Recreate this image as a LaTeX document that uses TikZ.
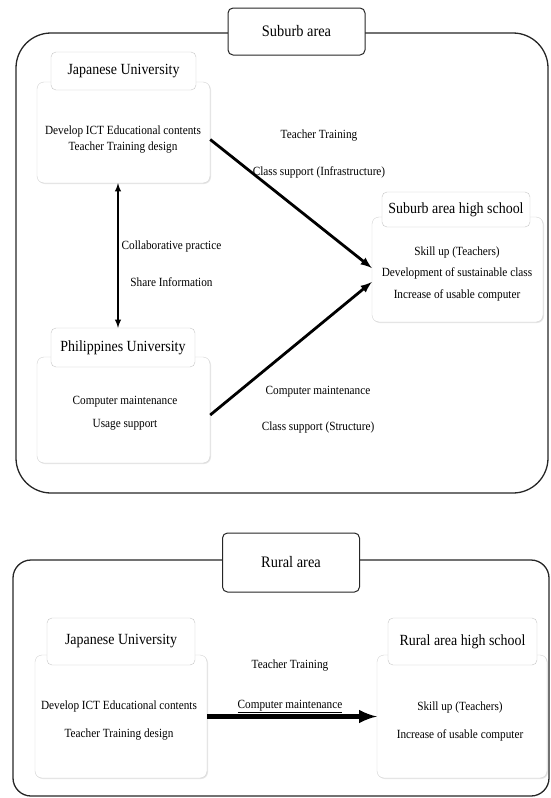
\documentclass[tikz,border=0pt]{standalone}
\usepackage{fontspec}
\setmainfont{Liberation Serif}[FakeStretch=0.9]
\usetikzlibrary{shadows}

\begin{document}
\begin{tikzpicture}[x=1pt,y=-1pt]
 \tikzstyle{zone}=[draw=black!85,line width=1.3pt]
 \tikzstyle{titre}=[draw=black!85,line width=1pt,fill=white,rounded corners=5pt,minimum width=137pt,font=\fontsize{16}{18}\selectfont]
 \tikzstyle{entete}=[draw=gray!45,fill=white,rounded corners=5pt,font=\fontsize{15.5}{18}\selectfont]
 \tikzstyle{corps}=[draw=gray!35,fill=white,rounded corners=7pt,drop shadow={shadow xshift=1pt,shadow yshift=-1pt,opacity=0.2}]
 \tikzstyle{texte}=[align=center,font=\fontsize{12.5}{16}\selectfont]
 \tikzstyle{flux}=[->,>=latex,line width=2.8pt]
 \useasboundingbox (0,0) rectangle (550,798);
 % suburb
 \draw[zone,rounded corners=35pt] (16,33) rectangle (548,493);
 \node[titre,minimum height=47pt] (T1) at (296.5,31.5) {Suburb area};
 \node[corps,minimum width=173pt,minimum height=101pt] (JUb) at (123.5,132.5) {};
 \node[entete,minimum width=145pt,minimum height=38pt] (JUh) at (123.5,71) {Japanese University};
 \node[texte] (JUt) at (123,140) {Develop ICT Educational contents\\Teacher Training design};
 \node[corps,minimum width=173pt,minimum height=106pt] (PUb) at (123.5,410) {};
 \node[entete,minimum width=144pt,minimum height=39pt] (PUh) at (123,347.5) {Philippines University};
 \node[texte] (PUt) at (125,413.5) {Computer maintenance\\[7pt]Usage support};
 \node[corps,minimum width=171pt,minimum height=105pt] (SHSb) at (457.5,269.5) {};
 \node[entete,minimum width=148pt,minimum height=35pt] (SHSh) at (456,209.5) {Suburb area high school};
 \node[texte] (SHSt) at (457,273.5) {Skill up (Teachers)\\[5.5pt]Development of sustainable class\\[5.5pt]Increase of usable computer};
 \node[texte] (L1) at (319,153.5) {Teacher Training\\[21pt]Class support (Infrastructure)};
 \node[texte] (L2) at (171.5,263.5) {Collaborative practice\\[21pt]Share Information};
 \node[texte] (L3) at (318,410) {Computer maintenance\\[20pt]Class support (Structure)};
 \draw[flux] ([yshift=-7pt]JUb.east)--([yshift=1.5pt]SHSb.west);
 \draw[flux] ([yshift=-5pt]PUb.east)--([yshift=-12.5pt]SHSb.west);
 \draw[<->,>=latex,line width=1.8pt] ([xshift=-5.5pt]JUb.south)--([xshift=-5pt]PUh.north);
 % rural
 \draw[zone,rounded corners=18pt] (13,560) rectangle (549,796);
 \node[titre,minimum height=59pt] (T2) at (291,562.5) {Rural area};
 \node[corps,minimum width=172pt,minimum height=123pt] (RJUb) at (121,716.5) {};
 \node[entete,minimum width=148pt,minimum height=47pt] (RJUh) at (121,641.5) {Japanese University};
 \node[texte] (RJUt) at (119,721) {Develop ICT Educational contents\\[12pt]Teacher Training design};
 \node[corps,minimum width=170pt,minimum height=123pt] (RHSb) at (462,716.5) {};
 \node[entete,minimum width=149pt,minimum height=47pt] (RHSh) at (462.5,641.5) {Rural area high school};
 \node[texte] (RHSt) at (460,721) {Skill up (Teachers)\\[12pt]Increase of usable computer};
 \node[texte] (L4) at (290,686) {Teacher Training\\[24pt]\underline{Computer maintenance}};
 \draw[flux,line width=5pt] (RJUb.east)--(RHSb.west);
\end{tikzpicture}
\end{document}
